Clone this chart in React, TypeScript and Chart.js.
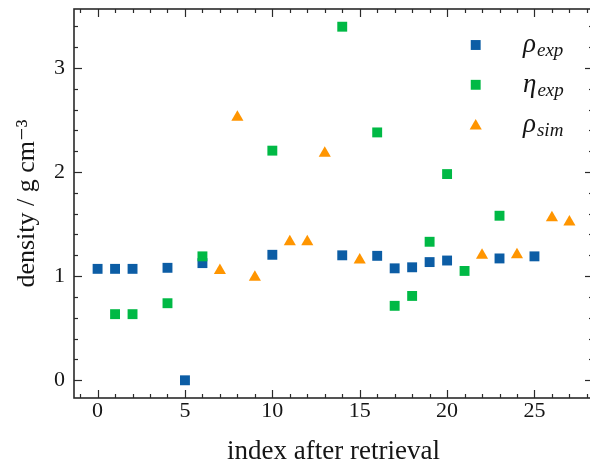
import React, { useEffect, useRef } from 'react';
import { Chart, registerables } from 'chart.js';

Chart.register(...registerables);

// ---- data ----
const rhoExpIdx = [0, 1, 2, 4, 5, 6, 10, 14, 16, 17, 18, 19, 20, 23, 25];
const rhoExpVal = [1.07, 1.07, 1.07, 1.08, 0.0, 1.125, 1.205, 1.2, 1.195, 1.075, 1.085, 1.135, 1.15, 1.17, 1.19];
const etaExpIdx = [1, 2, 4, 6, 10, 14, 16, 17, 18, 19, 20, 21, 23];
const etaExpVal = [0.635, 0.635, 0.74, 1.19, 2.205, 3.395, 2.38, 0.715, 0.81, 1.33, 1.98, 1.05, 1.58];
const rhoSimIdx = [7, 8, 9, 11, 12, 13, 15, 22, 24, 26, 27];
const rhoSimVal = [1.055, 2.525, 0.99, 1.33, 1.33, 2.18, 1.155, 1.2, 1.205, 1.56, 1.52];

const xTicks = [0, 5, 10, 15, 20, 25];
const yTicks = [0, 1, 2, 3];
const legendMain = ['ρ', 'η', 'ρ'];
const legendSub = ['exp', 'exp', 'sim'];
const xTitle = 'index after retrieval';
const yTitle = 'density / g cm⁻³';

const FONT = '"Liberation Serif", "DejaVu Serif", serif';
const TEXT = '#151515';
const AXIS = '#2a2a2a';

const toPoints = (xs: number[], ys: number[]) => xs.map((x, i) => ({ x, y: ys[i] }));

function drawMarker(ctx: CanvasRenderingContext2D, style: string, x: number, y: number, r: number, color: string) {
  ctx.fillStyle = color;
  ctx.beginPath();
  if (style === 'triangle') {
    let rad = 0;
    const step = (2 * Math.PI) / 3;
    ctx.moveTo(x + Math.sin(rad) * r, y - Math.cos(rad) * r);
    rad += step;
    ctx.lineTo(x + Math.sin(rad) * r, y - Math.cos(rad) * r);
    rad += step;
    ctx.lineTo(x + Math.sin(rad) * r, y - Math.cos(rad) * r);
    ctx.closePath();
  } else {
    const s = Math.SQRT1_2 * r;
    ctx.rect(x - s, y - s, 2 * s, 2 * s);
  }
  ctx.fill();
}

const framePlugin = {
  id: 'frameTicks',
  afterDraw(chart: any) {
    const { ctx, chartArea: a, scales } = chart;
    const xs = scales.x;
    const ys = scales.y;
    ctx.save();
    ctx.strokeStyle = AXIS;
    ctx.lineWidth = 1.2;
    const line = (x1: number, y1: number, x2: number, y2: number) => {
      ctx.beginPath();
      ctx.moveTo(x1, y1);
      ctx.lineTo(x2, y2);
      ctx.stroke();
    };
    // x ticks (minor every 1, major from xTicks)
    for (let v = Math.ceil(xs.min); v <= xs.max; v++) {
      const px = Math.round(xs.getPixelForValue(v)) + 0.5;
      const L = xTicks.includes(v) ? 8 : 4;
      line(px, a.bottom, px, a.bottom - L);
      line(px, a.top, px, a.top + L);
    }
    // y ticks (minor every 0.2)
    for (let k = Math.ceil(ys.min / 0.2); k * 0.2 <= ys.max; k++) {
      const v = Math.round(k * 0.2 * 10) / 10;
      const py = Math.round(ys.getPixelForValue(v)) + 0.5;
      const L = yTicks.includes(v) ? 8 : 4;
      line(a.left, py, a.left + L, py);
      line(a.right, py, a.right - L, py);
    }
    ctx.lineWidth = 1.6;
    ctx.strokeRect(a.left, a.top, a.right - a.left, a.bottom - a.top);

    // legend
    chart.data.datasets.forEach((ds: any, i: number) => {
      const my = a.top + 36 + i * 39.8;
      const mx = 475.7;
      drawMarker(ctx, ds.pointStyle, mx, my + (ds.pointStyle === 'triangle' ? 1.5 : 0), ds.pointRadius, ds.backgroundColor);
      ctx.fillStyle = TEXT;
      ctx.textBaseline = 'alphabetic';
      ctx.textAlign = 'left';
      ctx.font = `italic 27px ${FONT}`;
      ctx.fillText(legendMain[i], 523, my + 7);
      const w = ctx.measureText(legendMain[i]).width;
      ctx.font = `italic 19px ${FONT}`;
      ctx.fillText(legendSub[i], 523 + w + 1, my + 11);
    });
    ctx.restore();
  },
};

export default function App() {
  const ref = useRef<HTMLCanvasElement>(null);

  useEffect(() => {
    const chart = new Chart(ref.current as HTMLCanvasElement, {
      type: 'scatter',
      data: {
        datasets: [
          {
            label: 'ρ exp',
            data: toPoints(rhoExpIdx, rhoExpVal),
            pointStyle: 'rect',
            pointRadius: 7,
            backgroundColor: '#0C5DA5',
            borderWidth: 0,
            order: 3,
          },
          {
            label: 'η exp',
            data: toPoints(etaExpIdx, etaExpVal),
            pointStyle: 'rect',
            pointRadius: 7,
            backgroundColor: '#00B945',
            borderWidth: 0,
            order: 2,
          },
          {
            label: 'ρ sim',
            data: toPoints(rhoSimIdx, rhoSimVal),
            pointStyle: 'triangle',
            pointRadius: 7,
            backgroundColor: '#FF9500',
            borderWidth: 0,
            order: 1,
          },
        ] as any,
      },
      options: {
        animation: false,
        responsive: false,
        layout: { padding: { top: 9, right: 5, left: 0, bottom: 0 } },
        plugins: { legend: { display: false }, tooltip: { enabled: false } },
        scales: {
          x: {
            type: 'linear',
            min: -1.35,
            max: 28.35,
            grid: { display: false, drawTicks: false },
            border: { display: false },
            ticks: { font: { family: FONT, size: 22 }, color: TEXT, padding: 0, maxRotation: 0, autoSkip: false },
            afterBuildTicks: (s: any) => {
              s.ticks = xTicks.map((v) => ({ value: v }));
            },
            afterFit: (s: any) => {
              s.height = 67;
              s.paddingLeft = 0;
              s.paddingRight = 0;
            },
            title: { display: true, text: xTitle, font: { family: FONT, size: 27 }, color: TEXT, padding: { top: 0, bottom: -3 } },
          },
          y: {
            type: 'linear',
            min: -0.17,
            max: 3.565,
            grid: { display: false, drawTicks: false },
            border: { display: false },
            ticks: { font: { family: FONT, size: 22 }, color: TEXT, padding: 9 },
            afterBuildTicks: (s: any) => {
              s.ticks = yTicks.map((v) => ({ value: v }));
            },
            afterFit: (s: any) => {
              s.width = 74;
              s.paddingTop = 0;
              s.paddingBottom = 0;
            },
            title: { display: true, text: yTitle, font: { family: FONT, size: 26 }, color: TEXT, padding: { top: 12, bottom: 0 } },
          },
        },
      } as any,
      plugins: [framePlugin],
    });
    return () => chart.destroy();
  }, []);

  return (
    <div style={{ position: 'fixed', left: 0, top: 0, width: 590, height: 465, overflow: 'hidden', background: '#fff' }}>
      <canvas ref={ref} width={600} height={465} style={{ display: 'block' }} />
    </div>
  );
}
